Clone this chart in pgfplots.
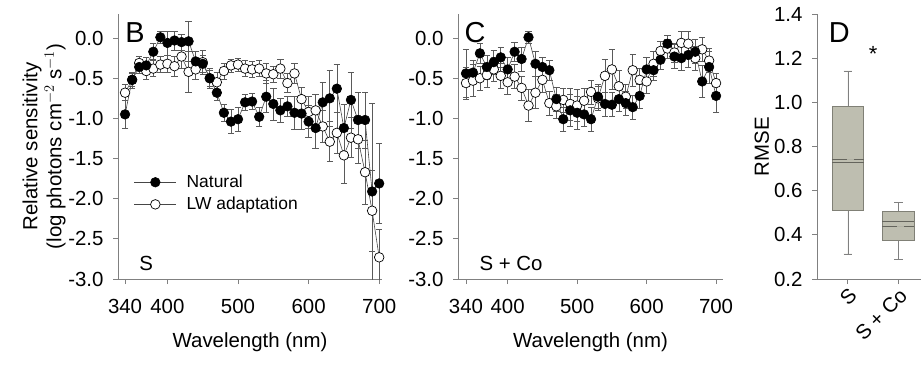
\documentclass[border=0pt]{standalone}
\usepackage{pgfplots}
\usepackage{pgfplotstable}
\pgfplotsset{compat=1.18}
\usepgfplotslibrary{statistics}
\usepackage{fontspec}
\setmainfont{Liberation Sans}

\definecolor{axisgray}{RGB}{128,128,128}
\definecolor{errgray}{RGB}{90,90,90}
\definecolor{linegray}{RGB}{70,70,70}
\definecolor{boxfill}{RGB}{190,190,176}
\definecolor{boxdraw}{RGB}{128,128,118}
\definecolor{medgray}{RGB}{100,100,92}

\pgfplotstableread{
w y e
340 -0.95 0.17
350 -0.52 0.10
360 -0.36 0.08
370 -0.34 0.10
380 -0.17 0.10
390 0.01 0.08
400 -0.06 0.15
410 -0.03 0.12
420 -0.05 0.10
430 -0.04 0.25
440 -0.29 0.12
450 -0.32 0.10
460 -0.50 0.10
470 -0.68 0.10
480 -0.93 0.10
490 -1.04 0.15
500 -1.01 0.15
510 -0.80 0.10
520 -0.79 0.10
530 -0.98 0.12
540 -0.73 0.20
550 -0.82 0.20
560 -0.90 0.15
570 -0.85 0.12
580 -0.93 0.20
590 -0.94 0.20
600 -1.04 0.20
610 -1.12 0.25
620 -0.80 0.25
630 -0.75 0.35
640 -0.63 0.30
650 -1.12 0.30
660 -0.77 0.35
670 -1.02 0.35
680 -1.02 0.35
690 -1.91 1.10
700 -1.81 0.50
}\BNat

\pgfplotstableread{
w y e
340 -0.68 0.10
350 -0.52 0.08
360 -0.31 0.08
370 -0.41 0.10
380 -0.38 0.10
390 -0.33 0.10
400 -0.32 0.10
410 -0.35 0.12
420 -0.23 0.15
430 -0.42 0.25
440 -0.39 0.12
450 -0.30 0.15
460 -0.50 0.12
470 -0.55 0.12
480 -0.41 0.10
490 -0.34 0.08
500 -0.33 0.08
510 -0.38 0.10
520 -0.39 0.10
530 -0.38 0.10
540 -0.44 0.12
550 -0.45 0.10
560 -0.38 0.12
570 -0.56 0.12
580 -0.44 0.12
590 -0.76 0.15
600 -0.92 0.20
610 -0.90 0.20
620 -1.10 0.20
630 -1.29 0.25
640 -1.18 0.25
650 -1.46 0.35
660 -1.24 0.25
670 -1.26 0.30
680 -1.67 0.40
690 -2.15 0.50
700 -2.73 0.35
}\BLW

\pgfplotstableread{
w y e
340 -0.44 0.30
350 -0.43 0.15
360 -0.19 0.12
370 -0.36 0.15
380 -0.30 0.15
390 -0.24 0.12
400 -0.39 0.15
410 -0.17 0.12
420 -0.26 0.15
430 0.01 0.08
440 -0.32 0.15
450 -0.36 0.12
460 -0.40 0.12
470 -0.76 0.15
480 -1.01 0.15
490 -0.90 0.20
500 -0.93 0.20
510 -0.95 0.15
520 -1.01 0.15
530 -0.73 0.15
540 -0.82 0.15
550 -0.83 0.15
560 -0.76 0.15
570 -0.81 0.15
580 -0.86 0.15
590 -0.72 0.15
600 -0.39 0.15
610 -0.40 0.12
620 -0.27 0.12
630 -0.07 0.10
640 -0.23 0.15
650 -0.25 0.15
660 -0.21 0.15
670 -0.17 0.15
680 -0.54 0.20
690 -0.36 0.20
700 -0.72 0.20
}\CNat

\pgfplotstableread{
w y e
340 -0.56 0.20
350 -0.53 0.20
360 -0.50 0.15
370 -0.46 0.15
380 -0.39 0.15
390 -0.47 0.15
400 -0.55 0.15
410 -0.48 0.15
420 -0.62 0.15
430 -0.84 0.20
440 -0.68 0.20
450 -0.52 0.15
460 -0.81 0.15
470 -0.85 0.15
480 -0.77 0.15
490 -0.82 0.20
500 -0.84 0.20
510 -0.78 0.15
520 -0.67 0.15
530 -0.75 0.15
540 -0.47 0.20
550 -0.39 0.25
560 -0.60 0.20
570 -0.73 0.15
580 -0.40 0.20
590 -0.52 0.15
600 -0.54 0.15
610 -0.32 0.15
620 -0.16 0.12
630 -0.13 0.12
640 -0.18 0.12
650 -0.06 0.15
660 -0.07 0.15
670 -0.25 0.15
680 -0.14 0.15
690 -0.28 0.15
700 -0.56 0.12
}\CLW

\pgfplotsset{
  myaxis/.style={
    scale only axis,
    axis x line*=bottom, axis y line*=left,
    axis line style={draw=axisgray, line width=0.8pt},
    tick style={draw=axisgray, line width=0.8pt},
    tick align=outside, major tick length=5bp,
    tick label style={font=\fontsize{20.5}{24}\selectfont},
    label style={font=\fontsize{20.5}{24}\selectfont},
    /pgf/number format/assume math mode=true,
    yticklabel style={xshift=-6bp, /pgf/number format/fixed, /pgf/number format/fixed zerofill, /pgf/number format/precision=1},
  },
  specaxis/.style={
    myaxis,
    height=265bp,
    ymin=-3.0, ymax=0.3,
    ytick={-3,-2.5,-2,-1.5,-1,-0.5,0},
    xtick={340,400,500,600,700},
    xticklabel style={yshift=-12bp},
    xlabel={Wavelength (nm)},
    xlabel style={at={(rel axis cs:0.5,0)}, anchor=center, yshift=-63bp},
    error bars/y dir=both, error bars/y explicit,
    error bars/error mark=|,
    error bars/error bar style={draw=errgray, line width=0.6pt, solid},
    error bars/error mark options={draw=errgray, line width=0.6pt, mark size=3.2bp},
  },
  natstyle/.style={draw=linegray, line width=0.6pt, mark=*, mark size=4.8bp,
    mark options={fill=black, draw=black, line width=0.6pt, solid}},
  lwstyle/.style={draw=linegray, line width=0.6pt, mark=*, mark size=4.8bp,
    mark options={fill=white, draw=black, line width=0.7pt, solid}},
}

\begin{document}
\begin{tikzpicture}[x=1bp,y=1bp]
\useasboundingbox (0,0) rectangle (922,364);

% Panel B
\begin{axis}[specaxis, at={(118bp,85bp)}, anchor=south west, width=264bp,
  xmin=330, xmax=704,
  ylabel={Relative sensitivity\\(log photons cm$^{-2}$ s$^{-1}$)},
  ylabel style={align=center, at={(axis description cs:-0.28,0.5)}, anchor=center},
  legend style={draw=none, fill=none, at={(rel axis cs:0.06,0.40)}, anchor=north west,
    font=\fontsize{17.5}{20}\selectfont, row sep=4bp, inner sep=0pt},
  legend cell align=left,
  legend image code/.code={\draw[mark repeat=2,mark phase=2,#1] plot coordinates {(0bp,0bp) (21bp,0bp) (42bp,0bp)};
    \path (50bp,0bp);},
  reverse legend,
]
\addplot[lwstyle] table[x=w, y=y, y error=e] {\BLW};
\addlegendentry{LW adaptation}
\addplot[natstyle] table[x=w, y=y, y error=e] {\BNat};
\addlegendentry{Natural}
\node[anchor=west, font=\fontsize{29}{32}\selectfont] at (rel axis cs:0.015,0.93) {B};
\node[anchor=west, font=\fontsize{20.5}{24}\selectfont] at (rel axis cs:0.068,0.06) {S};
\end{axis}

% Panel C
\begin{axis}[specaxis, at={(458bp,85bp)}, anchor=south west, width=265bp,
  xmin=328.5, xmax=710,
]
\addplot[lwstyle] table[x=w, y=y, y error=e] {\CLW};
\addplot[natstyle] table[x=w, y=y, y error=e] {\CNat};
\node[anchor=west, font=\fontsize{29}{32}\selectfont] at (rel axis cs:0.012,0.93) {C};
\node[anchor=west, font=\fontsize{20.5}{24}\selectfont] at (rel axis cs:0.068,0.06) {S + Co};
\end{axis}

% Panel D
\begin{axis}[myaxis, at={(817bp,85bp)}, anchor=south west, width=104bp, height=265bp,
  xmin=0.39, xmax=2.45, ymin=0.2, ymax=1.4,
  ytick={0.2,0.4,0.6,0.8,1.0,1.2,1.4},
  xtick={1,2}, xticklabels={S, S + Co},
  xticklabel style={rotate=45, anchor=north east, inner sep=2bp},
  ylabel={RMSE},
  ylabel style={at={(axis description cs:-0.53,0.5)}, anchor=center},
  boxplot/draw direction=y,
  boxplot/draw/average/.code={\draw[medgray, line width=0.7pt, dash pattern=on 15bp off 7bp]
    (boxplot box cs:\pgfplotsboxplotvalue{average},0) -- (boxplot box cs:\pgfplotsboxplotvalue{average},1);},
  boxplot/every median/.style={draw=medgray, line width=0.7pt},
  boxplot/every whisker/.style={draw=axisgray, line width=0.6pt},
]
\addplot[boxplot prepared={median=0.730, average=0.742, upper quartile=0.983, lower quartile=0.510,
  upper whisker=1.142, lower whisker=0.314, draw position=1, box extend=0.63, whisker extend=0.17},
  fill=boxfill, draw=boxdraw, line width=0.6pt] coordinates {};
\addplot[boxplot prepared={median=0.462, average=0.440, upper quartile=0.508, lower quartile=0.377,
  upper whisker=0.547, lower whisker=0.290, draw position=2, box extend=0.63, whisker extend=0.17},
  fill=boxfill, draw=boxdraw, line width=0.6pt] coordinates {};
\node[anchor=west, font=\fontsize{29}{32}\selectfont] at (rel axis cs:0.08,0.93) {D};
\node[font=\fontsize{22}{24}\selectfont] at (axis cs:1.5,1.22) {*};
\end{axis}
\end{tikzpicture}
\end{document}
